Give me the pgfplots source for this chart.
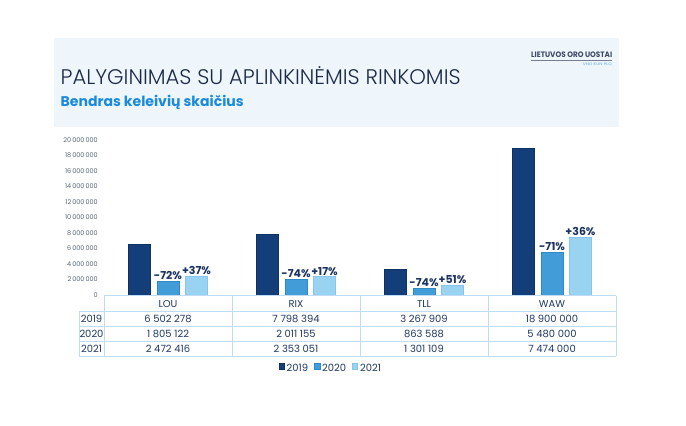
\documentclass[border=0pt]{standalone}
\usepackage{pgfplots}
\pgfplotsset{compat=1.18}
\usepackage{pgfplotstable}
\usepackage{fontspec}
\setmainfont{Poppins}
\newfontfamily\titlefont{Poppins Light}
\definecolor{c19}{HTML}{143E7A}
\definecolor{c19d}{HTML}{0E3166}
\definecolor{c20}{HTML}{419CD7}
\definecolor{c20d}{HTML}{2F89C6}
\definecolor{c21}{HTML}{9AD3F2}
\definecolor{c21d}{HTML}{86C6EA}
\definecolor{panel}{HTML}{EEF6FB}
\definecolor{navy}{HTML}{1B2A48}
\definecolor{labc}{HTML}{1B3461}
\definecolor{txt}{HTML}{1F3864}
\definecolor{subt}{HTML}{1A8ADB}
\definecolor{tick}{HTML}{56667C}
\definecolor{grid}{HTML}{BFDDF2}

\pgfplotstableread{
x y
0 6502278
1 7798394
2 3267909
3 18900000
}\tA
\pgfplotstableread{
x y lab
0 1805122 -72\%
1 2011155 -74\%
2 863588 -74\%
3 5480000 -71\%
}\tB
\pgfplotstableread{
x y lab
0 2472416 +37\%
1 2353051 +17\%
2 1301109 +51\%
3 7474000 +36\%
}\tC

\begin{document}
\begin{tikzpicture}
\begin{scope}[x=1bp,y=-1bp]
\path[fill=white,use as bounding box] (0,0) rectangle (686,425);
\fill[panel] (54,38.3) rectangle (619,127);
\node[anchor=base west,inner sep=0pt,text=navy] at (60.5,84.3)
  {\resizebox{400bp}{!}{\titlefont\fontsize{20}{24}\selectfont PALYGINIMAS SU APLINKINĖMIS RINKOMIS}};
\node[anchor=base west,inner sep=0pt,text=subt] at (60.5,106)
  {\resizebox{183bp}{!}{\fontsize{14}{16}\selectfont\bfseries Bendras keleivių skaičius}};
\node[anchor=base west,inner sep=0pt,text=navy!85] at (531,57.5)
  {\resizebox{81bp}{5.6bp}{\fontsize{8}{9}\selectfont\bfseries LIETUVOS ORO UOSTAI}};
\draw[navy!60,line width=0.6bp] (531,60) -- (612,60);
\node[anchor=base east,inner sep=0pt,text=subt!70] at (612,65.5)
  {\resizebox{29bp}{2.6bp}{\fontsize{4}{5}\selectfont VNO KUN PLQ}};
\end{scope}

\begin{axis}[
  at={(104bp,-295bp)}, anchor=south west,
  scale only axis, width=512bp, height=155bp,
  xmin=-0.5, xmax=3.5, ymin=0, ymax=20000000,
  clip=false,
  scaled y ticks=false,
  axis line style={draw=none},
  major tick style={draw=none},
  xtick=\empty,
  ytick={0,2000000,4000000,6000000,8000000,10000000,12000000,14000000,16000000,18000000,20000000},
  yticklabels={0,2\,000\,000,4\,000\,000,6\,000\,000,8\,000\,000,10\,000\,000,12\,000\,000,14\,000\,000,16\,000\,000,18\,000\,000,20\,000\,000},
  yticklabel style={font=\fontsize{6.5}{7}\selectfont, text=tick, inner sep=0pt, xshift=-6bp, anchor=east},
  ybar, bar width=22bp,
  point meta=explicit symbolic,
  nodes near coords style={font=\bfseries\fontsize{11}{12}\selectfont, text=labc, anchor=south, inner sep=1.2bp},
  legend style={at={(0.443,-0.477)}, anchor=center, draw=none, fill=none,
    legend columns=3, font=\fontsize{10}{11}\selectfont, text=txt,
    /tikz/every even column/.append style={column sep=4bp}},
  legend image code/.code={\filldraw[#1] (0bp,-0.3bp) rectangle (5.4bp,5.4bp);},
]
\addplot[fill=c19, draw=c19d, line width=0.6bp, bar shift=-28.5bp] table[x=x,y=y] {\tA};
\addplot[fill=c20, draw=c20d, line width=0.6bp, bar shift=0bp, nodes near coords] table[x=x,y=y,meta=lab] {\tB};
\addplot[fill=c21, draw=c21d, line width=0.6bp, bar shift=28.5bp, nodes near coords] table[x=x,y=y,meta=lab] {\tC};
\legend{2019,2020,2021}
\end{axis}

\begin{scope}[x=1bp,y=-1bp]
\draw[grid,line width=0.9bp] (104,295.5) -- (616,295.5);
\foreach \yy in {311,326,341,356} \draw[grid,line width=0.9bp] (79,\yy) -- (616,\yy);
\draw[grid,line width=0.9bp] (79,311) -- (79,356);
\foreach \xx in {104,232,360,488,616} \draw[grid,line width=0.9bp] (\xx,295.5) -- (\xx,356);
\begin{scope}[every node/.style={inner sep=0pt,text=txt,font=\fontsize{10}{11}\selectfont,anchor=base}]
\node at (168,307.5) {LOU};
\node at (296,307.5) {RIX};
\node at (424,307.5) {TLL};
\node at (552,307.5) {WAW};
\node at (91.5,322.5) {2019};
\node at (91.5,337.5) {2020};
\node at (91.5,352.5) {2021};
\node at (168,322.5) {6 502 278};
\node at (296,322.5) {7 798 394};
\node at (424,322.5) {3 267 909};
\node at (552,322.5) {18 900 000};
\node at (168,337.5) {1 805 122};
\node at (296,337.5) {2 011 155};
\node at (424,337.5) {863 588};
\node at (552,337.5) {5 480 000};
\node at (168,352.5) {2 472 416};
\node at (296,352.5) {2 353 051};
\node at (424,352.5) {1 301 109};
\node at (552,352.5) {7 474 000};
\end{scope}
\end{scope}
\end{tikzpicture}
\end{document}
